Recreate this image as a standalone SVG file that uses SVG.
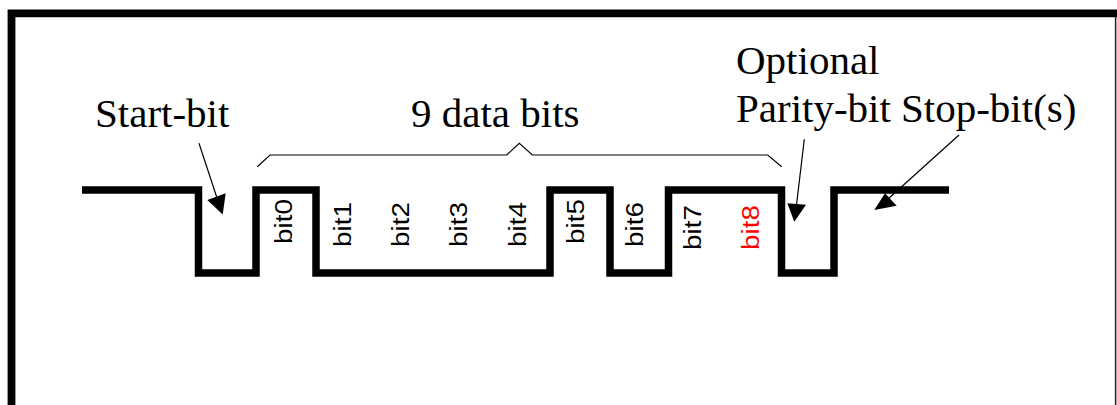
<svg xmlns="http://www.w3.org/2000/svg" width="1117" height="405" viewBox="0 0 1117 405">
  <style>
    .lbl { font-family: "Liberation Serif", "Times New Roman", serif; font-size: 41px; fill: #000; }
    .bit { font-family: "Liberation Sans", Arial, sans-serif; font-size: 23px; fill: #000; }
    .red { fill: #ff0000; }
    .wave { fill: none; stroke: #000; stroke-width: 7.5; stroke-linejoin: miter; stroke-linecap: butt; }
    .thin { fill: none; stroke: #000; stroke-width: 1.2; }
    .head { fill: #000; stroke: none; }
  </style>

  <rect width="1117" height="405" fill="#fff"/>

  <!-- outer frame -->
  <g id="frame">
    <path d="M11.5,405 V13.3 H1117" fill="none" stroke="#000" stroke-width="7.8"/>
    <line x1="1115.6" y1="17" x2="1115.6" y2="405" stroke="#222" stroke-width="1.5"/>
  </g>

  <!-- serial waveform -->
  <g id="waveform">
    <path class="wave" d="M82,190 H198.5 V273 H256 V190 H316 V273 H550 V190 H610 V273 H668.5 V190 H781.5 V273 H834 V190 H949"/>
  </g>

  <!-- bit labels -->
  <g id="bits">
    <text class="bit" transform="translate(292,244) rotate(-90)" textLength="45" lengthAdjust="spacingAndGlyphs">bit0</text>
    <text class="bit" transform="translate(351,247) rotate(-90)" textLength="45" lengthAdjust="spacingAndGlyphs">bit1</text>
    <text class="bit" transform="translate(409,247) rotate(-90)" textLength="45" lengthAdjust="spacingAndGlyphs">bit2</text>
    <text class="bit" transform="translate(467,247) rotate(-90)" textLength="45" lengthAdjust="spacingAndGlyphs">bit3</text>
    <text class="bit" transform="translate(526,247) rotate(-90)" textLength="45" lengthAdjust="spacingAndGlyphs">bit4</text>
    <text class="bit" transform="translate(584,244) rotate(-90)" textLength="45" lengthAdjust="spacingAndGlyphs">bit5</text>
    <text class="bit" transform="translate(643,247) rotate(-90)" textLength="45" lengthAdjust="spacingAndGlyphs">bit6</text>
    <text class="bit" transform="translate(701,250) rotate(-90)" textLength="45" lengthAdjust="spacingAndGlyphs">bit7</text>
    <text class="bit red" transform="translate(759,250) rotate(-90)" textLength="45" lengthAdjust="spacingAndGlyphs">bit8</text>
  </g>

  <!-- captions -->
  <g id="start-bit">
    <text class="lbl" x="95" y="127">Start-bit</text>
  </g>
  <g id="data-bits">
    <text class="lbl" x="411" y="127">9 data bits</text>
  </g>
  <g id="parity-bit">
    <text class="lbl" x="736" y="74">Optional</text>
    <text class="lbl" x="736" y="122">Parity-bit</text>
  </g>
  <g id="stop-bits">
    <text class="lbl" x="901" y="122">Stop-bit(s)</text>
  </g>

  <!-- connectors: brace over data bits and pointer arrows -->
  <g id="connectors">
    <path class="thin" d="M257.3,166.7 L270,155 H506.7 L519.3,143.3 L532.3,155 H767.7 L781.7,166.7"/>

    <line class="thin" x1="199" y1="143.3" x2="217" y2="198"/>
    <polygon class="head" points="207.3,200 225.7,193.3 222.7,214.5"/>

    <line class="thin" x1="804.3" y1="139.3" x2="796.5" y2="205"/>
    <polygon class="head" points="787.3,203.3 806,204.7 794.3,221.7"/>

    <line class="thin" x1="959" y1="135" x2="888" y2="199"/>
    <polygon class="head" points="885,193.3 896.7,205.7 874.3,210"/>
  </g>
</svg>
